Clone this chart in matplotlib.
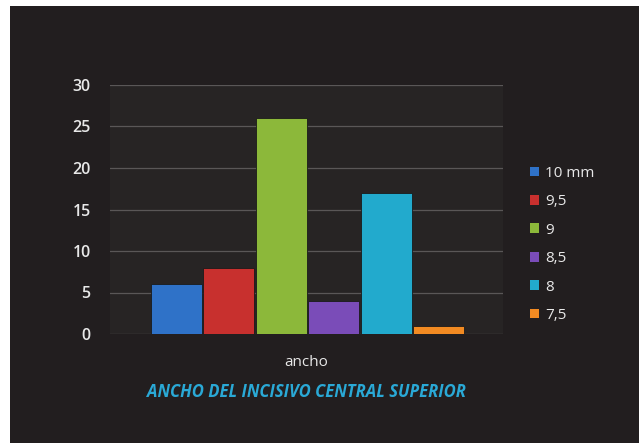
import matplotlib
matplotlib.use("Agg")
import matplotlib.pyplot as plt
from matplotlib.patches import Rectangle, Patch

categories = ["ancho"]
series = ["10 mm", "9,5", "9", "8,5", "8", "7,5"]
values = [6, 8, 26, 4, 17, 1]
colors = ["#2f72c8", "#c8302e", "#8cb83a", "#7a4cb8", "#22aacd", "#f28a22"]
yticks = [0, 5, 10, 15, 20, 25, 30]
title = "ANCHO DEL INCISIVO CENTRAL SUPERIOR"

W, H = 639, 443
fig = plt.figure(figsize=(W / 100, H / 100), dpi=100)
fig.patch.set_facecolor("#221e1f")
# white border strips at the top and left
fig.patches.append(Rectangle((0, 0), 10 / W, 1, transform=fig.transFigure,
                             facecolor="white", edgecolor="none", zorder=-1))
fig.patches.append(Rectangle((0, 1 - 6 / H), 1, 6 / H, transform=fig.transFigure,
                             facecolor="white", edgecolor="none", zorder=-1))

ax = fig.add_axes([110 / W, 1 - 334 / H, (503 - 110) / W, (334 - 85) / H])
ax.set_zorder(2)
ax.set_facecolor("#272424")
n = len(series)
step = 0.1336
width = 0.13
for i, (s, v, c) in enumerate(zip(series, values, colors)):
    x = (i - (n - 1) / 2) * step + 0.003
    ax.bar(x, v, width=width, color=c, edgecolor="#1a1a1a", linewidth=0.6, label=s, zorder=3)

ax.set_xlim(-0.5, 0.5)
ax.set_ylim(0, 30)
ax.set_yticks(yticks)
ax.set_yticklabels([str(t) for t in yticks], color="#e8e8e8", fontsize=11.5, fontweight="semibold",
                   family="Open Sans")
ax.tick_params(axis="y", length=0, pad=14)
ax.set_xticks([0])
ax.set_xticklabels(categories, color="#e8e8e8", fontsize=11, family="Open Sans")
ax.tick_params(axis="x", length=0, pad=15)
ax.grid(axis="y", color="#5a5757", linewidth=0.9, zorder=1)
for sp in ax.spines.values():
    sp.set_visible(False)

leg = fig.legend(handles=[Patch(facecolor=c, label=s) for s, c in zip(series, colors)],
                 loc="upper left", bbox_to_anchor=(516 / W, 1 - 152 / H), frameon=False,
                 labelcolor="#e8e8e8", prop={"family": "Open Sans", "size": 11},
                 handlelength=0.6, handleheight=0.6, handletextpad=0.4, labelspacing=0.88)

fig.text(306 / W, 1 - 392 / H, title, color="#2aa9d6", fontsize=12, fontweight="bold",
         style="italic", ha="center", va="center", family="Open Sans")

fig.savefig("out.png", dpi=100, facecolor=fig.get_facecolor())
